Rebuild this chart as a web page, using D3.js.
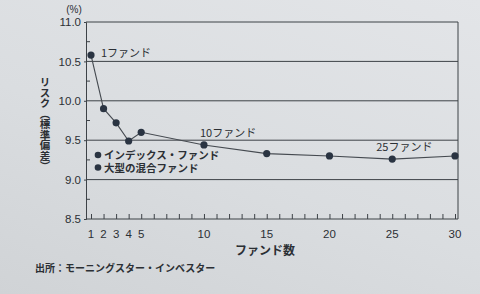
<!DOCTYPE html>
<html>
<head>
<meta charset="utf-8">
<script src="https://cdn.jsdelivr.net/npm/d3@7"></script>
<style>
    html, body { margin: 0; padding: 0; }
    body {
        width: 480px; height: 294px; overflow: hidden;
        background: linear-gradient(20deg, #d0d3d6 0%, #dadde0 45%, #e3e5e8 100%);
    }
    text { font-family: "Noto Sans CJK JP", "Noto Sans", sans-serif; fill: #2b2f34; }
    text.num { font-family: "Liberation Sans", Arial, sans-serif; }
</style>
</head>
<body>
<div id="chart"></div>
<script>
// number of funds held vs. risk (standard deviation, %)
var funds = [1, 2, 3, 4, 5, 10, 15, 20, 25, 30];
var risk = [10.58, 9.90, 9.72, 9.49, 9.60, 9.44, 9.33, 9.30, 9.26, 9.30];

var xTickLabels = [1, 2, 3, 4, 5, 10, 15, 20, 25, 30];
var yTicks = [8.5, 9.0, 9.5, 10.0, 10.5, 11.0];
var yMinorTicks = [8.75, 9.25, 9.75, 10.25, 10.75];

var notes = [
    { fund: 1, text: '1ファンド', dx: 10, dy: 2 },
    { fund: 10, text: '10ファンド', dx: -4, dy: -8 },
    { fund: 25, text: '25ファンド', dx: -16, dy: -8 }
];
var legendItems = ['インデックス・ファンド', '大型の混合ファンド'];
var yTitle = 'リスク（標準偏差）';

(function () {
    'use strict';
    var width = 480, height = 294;
    var left = 86, right = 458, top = 22, bottom = 219;
    var lineColor = '#3d4247';
    var dotColor = '#2a3442';

    var svg = d3.select('#chart')
        .append('svg')
        .attr('width', width)
        .attr('height', height);

    var x = d3.scaleLinear().domain([1, 30]).range([91, 455]);
    var y = d3.scaleLinear().domain([8.5, 11]).range([bottom, top]);

    // horizontal grid lines
    svg.append('g')
        .selectAll('line')
        .data(yTicks.filter(function (d) { return d > 8.5; }))
        .enter().append('line')
        .attr('x1', left).attr('x2', right)
        .attr('y1', function (d) { return y(d); })
        .attr('y2', function (d) { return y(d); })
        .attr('stroke', lineColor)
        .attr('stroke-width', 1);

    // right border
    svg.append('line')
        .attr('x1', right).attr('x2', right)
        .attr('y1', top).attr('y2', bottom)
        .attr('stroke', lineColor);

    // left axis
    var yAxis = svg.append('g')
        .attr('transform', 'translate(' + left + ',0)')
        .call(d3.axisLeft(y).tickValues(yTicks).tickSize(2).tickPadding(3).tickFormat(d3.format('.1f')));
    yAxis.selectAll('path, line').attr('stroke', lineColor);
    yAxis.selectAll('text').attr('class', 'num').style('font-size', '11.5px').attr('fill', '#2b2f34');

    // minor ticks on the left axis, pointing inward
    svg.append('g')
        .selectAll('line')
        .data(yMinorTicks)
        .enter().append('line')
        .attr('x1', left).attr('x2', left + 4)
        .attr('y1', function (d) { return y(d); })
        .attr('y2', function (d) { return y(d); })
        .attr('stroke', lineColor);

    // bottom axis: ticks every fund, pointing up, labels on a few
    var xAxis = svg.append('g')
        .attr('transform', 'translate(0,' + bottom + ')')
        .call(d3.axisBottom(x).tickValues(d3.range(1, 31)).tickSize(-5).tickSizeOuter(0).tickFormat(''));
    xAxis.select('path').attr('d', 'M' + left + ',0H' + right);
    xAxis.selectAll('path, line').attr('stroke', lineColor);

    svg.append('g')
        .selectAll('text')
        .data(xTickLabels)
        .enter().append('text')
        .attr('class', 'num')
        .attr('x', function (d) { return x(d); })
        .attr('y', 238)
        .attr('text-anchor', 'middle')
        .style('font-size', '11.5px')
        .text(function (d) { return d; });

    // axis titles
    svg.append('text')
        .attr('class', 'num')
        .attr('x', 74).attr('y', 13)
        .attr('text-anchor', 'middle')
        .style('font-size', '10px')
        .text('(%)');

    svg.append('text')
        .attr('x', 45).attr('y', 77)
        .style('writing-mode', 'vertical-rl')
        .style('text-orientation', 'mixed')
        .style('font-size', '10.5px')
        .style('font-weight', 'bold')
        .text(yTitle);

    svg.append('text')
        .attr('x', 265).attr('y', 255)
        .attr('text-anchor', 'middle')
        .style('font-size', '12px')
        .style('font-weight', 'bold')
        .text('ファンド数');

    // the series
    var pts = funds.map(function (f, i) { return [f, risk[i]]; });
    svg.append('path')
        .datum(pts)
        .attr('fill', 'none')
        .attr('stroke', '#454a50')
        .attr('stroke-width', 1.1)
        .attr('d', d3.line()
            .x(function (d) { return x(d[0]); })
            .y(function (d) { return y(d[1]); }));

    svg.append('g')
        .selectAll('circle')
        .data(pts)
        .enter().append('circle')
        .attr('cx', function (d) { return x(d[0]); })
        .attr('cy', function (d) { return y(d[1]); })
        .attr('r', 3.6)
        .attr('fill', dotColor);

    // point notes
    svg.append('g')
        .selectAll('text')
        .data(notes)
        .enter().append('text')
        .attr('x', function (d) { return x(d.fund) + d.dx; })
        .attr('y', function (d) { return y(risk[funds.indexOf(d.fund)]) + d.dy; })
        .style('font-size', '11px')
        .text(function (d) { return d.text; });

    // legend
    var leg = svg.append('g');
    legendItems.forEach(function (t, i) {
        leg.append('circle')
            .attr('cx', 98).attr('cy', 155 + i * 12.5)
            .attr('r', 3.3)
            .attr('fill', dotColor);
        leg.append('text')
            .attr('x', 104).attr('y', 159 + i * 12.5)
            .style('font-size', '10.5px')
            .style('font-weight', 'bold')
            .text(t);
    });

    // source
    svg.append('text')
        .attr('x', 35).attr('y', 272)
        .style('font-size', '10px')
        .style('font-weight', 'bold')
        .text('出所：モーニングスター・インベスター');
})();
</script>
</body>
</html>
